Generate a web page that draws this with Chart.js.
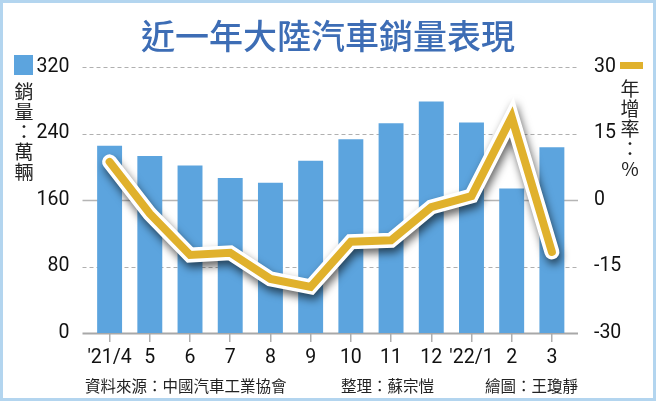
<!DOCTYPE html>
<html>
<head>
<meta charset="utf-8">
<script src="https://cdn.jsdelivr.net/npm/chart.js@4/dist/chart.umd.min.js"></script>
<style>
  html, body { margin: 0; padding: 0; background: #fff; }
  #frame {
    position: relative; width: 656px; height: 401px; box-sizing: border-box;
    border: 3px solid #b3d5ef; overflow: hidden; background: #fff;
    font-family: "Noto Sans CJK TC", "Noto Sans", sans-serif;
  }
  #chart { position: absolute; left: -3px; top: -3px; }
  .title {
    position: absolute; left: 0; width: 650px; top: 7px; text-align: center;
    font-size: 34px; font-weight: 500; color: #3d6db5;
  }
  .vtext {
    position: absolute; width: 22px; text-align: center; color: #222;
    font-size: 19px; line-height: 20px;
  }
  .swatch { position: absolute; }
  .foot { position: absolute; top: 371px; font-size: 15.5px; color: #222; white-space: nowrap; }
</style>
</head>
<body>
<div id="frame">
  <canvas id="chart" width="656" height="401"></canvas>
  <div class="title">近一年大陸汽車銷量表現</div>
  <div class="swatch" style="left:11px;top:52px;width:19px;height:20px;background:#5ca4de"></div>
  <div class="swatch" style="left:617px;top:59px;width:23px;height:7px;background:#e0b12c"></div>
  <div class="vtext" style="left:10px;top:78px">銷<br>量<br>：<br>萬<br>輛</div>
  <div class="vtext" style="left:616px;top:75px">年<br>增<br>率<br>：<br>%</div>
  <div class="foot" style="left:82px">資料來源：中國汽車工業協會</div>
  <div class="foot" style="left:338px">整理：蘇宗愷</div>
  <div class="foot" style="left:482px">繪圖：王瓊靜</div>
</div>
<script>
(function () {
    'use strict';

    // Months, sales (10k units) and YoY growth (%)
    const months = ["'21/4", '5', '6', '7', '8', '9', '10', '11', '12', "'22/1", '2', '3'];
    const sales = [225.2, 212.8, 201.5, 186.4, 180.9, 207.1, 233.2, 252.2, 278.6, 253.1, 173.7, 223.4];
    const growth = [8.6, -3.1, -12.4, -11.9, -17.8, -19.6, -9.4, -9.1, -1.6, 0.9, 18.7, -11.7];
    const salesTicks = [0, 80, 160, 240, 320];
    const growthTicks = [-30, -15, 0, 15, 30];

    const BLUE = '#5ca4de';
    const GOLD = '#e0b12c';
    const tickFont = { family: 'Roboto, "Liberation Sans", sans-serif', size: 19.5 };

    // Horizontal gridlines, a bit wider than the plot area
    const gridPlugin = {
        id: 'hgrid',
        beforeDatasetsDraw(chart) {
            const ctx = chart.ctx;
            const area = chart.chartArea;
            const scale = chart.scales.y;
            ctx.save();
            salesTicks.forEach(v => {
                const y = Math.round(scale.getPixelForValue(v)) + 0.5;
                if (v === 0) {
                    ctx.strokeStyle = '#a8a8a8'; ctx.lineWidth = 2; ctx.setLineDash([]);
                } else if (v === 160) {
                    ctx.strokeStyle = '#b5b5b5'; ctx.lineWidth = 1.5; ctx.setLineDash([]);
                } else {
                    ctx.strokeStyle = '#b0b0b0'; ctx.lineWidth = 1; ctx.setLineDash([4, 3]);
                }
                ctx.beginPath();
                ctx.moveTo(area.left - 7, y);
                ctx.lineTo(area.right + 6, y);
                ctx.stroke();
            });
            ctx.restore();
        }
    };

    // Drop shadow under the white outline of the growth line
    const shadowPlugin = {
        id: 'lineShadow',
        beforeDatasetDraw(chart, args) {
            if (args.index !== 1) return;
            const ctx = chart.ctx;
            ctx.save();
            ctx.shadowColor = 'rgba(0,0,0,0.6)';
            ctx.shadowBlur = 8;
            ctx.shadowOffsetX = 2;
            ctx.shadowOffsetY = 5;
        },
        afterDatasetDraw(chart, args) {
            if (args.index !== 1) return;
            chart.ctx.restore();
        }
    };

    new Chart(document.getElementById('chart').getContext('2d'), {
        data: {
            labels: months,
            datasets: [{
                type: 'bar',
                data: sales,
                backgroundColor: BLUE,
                barPercentage: 0.62,
                categoryPercentage: 1,
                yAxisID: 'y',
                order: 3
            }, {
                type: 'line',
                data: growth,
                borderColor: '#ffffff',
                borderWidth: 15,
                borderJoinStyle: 'miter',
                borderCapStyle: 'round',
                pointRadius: 0,
                tension: 0,
                yAxisID: 'y1',
                order: 2
            }, {
                type: 'line',
                data: growth,
                borderColor: GOLD,
                borderWidth: 8,
                borderJoinStyle: 'miter',
                borderCapStyle: 'round',
                pointRadius: 0,
                tension: 0,
                yAxisID: 'y1',
                order: 1
            }]
        },
        options: {
            responsive: false,
            animation: false,
            layout: { padding: { top: 67, right: 0, bottom: 0, left: 0 } },
            plugins: {
                legend: { display: false },
                tooltip: { enabled: false }
            },
            scales: {
                x: {
                    afterFit: s => { s.height = 68; },
                    grid: {
                        offset: false, drawOnChartArea: false, drawTicks: true,
                        tickLength: 9, color: '#b0b0b0', lineWidth: 1.5
                    },
                    border: { display: false },
                    ticks: { color: '#111', font: tickFont, padding: 4, maxRotation: 0, autoSkip: false }
                },
                y: {
                    position: 'left',
                    min: 0, max: 320,
                    afterFit: s => { s.width = 89.5; },
                    afterBuildTicks: s => { s.ticks = salesTicks.map(v => ({ value: v })); },
                    grid: { display: false },
                    border: { display: false },
                    ticks: { color: '#111', font: tickFont, padding: 12 }
                },
                y1: {
                    position: 'right',
                    min: -30, max: 30,
                    afterFit: s => { s.width = 84; },
                    afterBuildTicks: s => { s.ticks = growthTicks.map(v => ({ value: v })); },
                    grid: { display: false },
                    border: { display: false },
                    ticks: { color: '#111', font: tickFont, padding: 14 }
                }
            }
        },
        plugins: [gridPlugin, shadowPlugin]
    });
})();
</script>
</body>
</html>
